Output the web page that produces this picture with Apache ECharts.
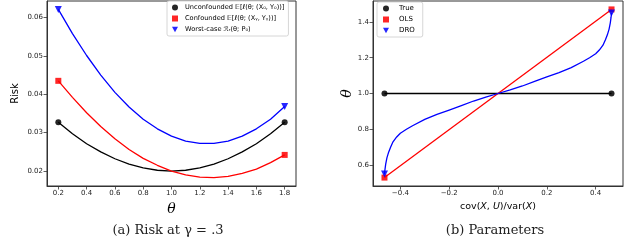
<!DOCTYPE html>
<html><head><meta charset="utf-8">
<script src="https://cdn.jsdelivr.net/npm/echarts@6/dist/echarts.min.js"></script>
<style>html,body{margin:0;padding:0;background:#fff}#c{width:640px;height:249px}</style>
</head><body><div id="c"></div>
<script>
// ---- Panel (a): risk vs theta ----
const theta = [0.2,0.3,0.4,0.5,0.6,0.7,0.8,0.9,1.0,1.1,1.2,1.3,1.4,1.5,1.6,1.7,1.8];
const riskUnconf = [0.0327,0.0297,0.0271,0.0250,0.0232,0.0218,0.0208,0.0202,0.0200,0.0202,0.0208,0.0218,0.0232,0.0250,0.0271,0.0297,0.0327];
const riskConf   = [0.0435,0.0392,0.0352,0.0316,0.0284,0.0256,0.0233,0.0215,0.0200,0.0190,0.0184,0.0183,0.0186,0.0194,0.0205,0.0222,0.0242];
const riskWorst  = [0.0621,0.0558,0.0501,0.0450,0.0405,0.0367,0.0335,0.0310,0.0291,0.0278,0.0272,0.0272,0.0278,0.0291,0.0310,0.0335,0.0368];
const thetaTicks = [0.2,0.4,0.6,0.8,1.0,1.2,1.4,1.6,1.8];
const thetaTickLabels = ['0.2','0.4','0.6','0.8','1.0','1.2','1.4','1.6','1.8'];
const riskTicks = [0.02,0.03,0.04,0.05,0.06];
const riskTickLabels = ['0.02','0.03','0.04','0.05','0.06'];

// ---- Panel (b): parameters ----
const covX = [-0.465,0.465];
const trueY = [1.0,1.0];
const olsY = [0.53,1.47];
const droX = [-0.465,-0.463,-0.46,-0.455,-0.448,-0.44,-0.43,-0.415,-0.40,-0.375,-0.35,-0.30,-0.25,-0.20,-0.15,-0.10,-0.05,0,0.05,0.10,0.15,0.20,0.25,0.30,0.35,0.375,0.40,0.415,0.43,0.44,0.448,0.455,0.46,0.463,0.465];
const droY = [0.55,0.575,0.605,0.64,0.672,0.70,0.73,0.757,0.778,0.80,0.82,0.855,0.883,0.907,0.932,0.958,0.98,1.0,1.02,1.042,1.068,1.093,1.117,1.145,1.18,1.20,1.222,1.243,1.27,1.30,1.328,1.36,1.395,1.425,1.45];
const covTicks = [-0.4,-0.2,0.0,0.2,0.4];
const covTickLabels = ['\u22120.4','\u22120.2','0.0','0.2','0.4'];
const parTicks = [0.6,0.8,1.0,1.2,1.4];
const parTickLabels = ['0.6','0.8','1.0','1.2','1.4'];

const names = ['Unconfounded \uD835\uDD3C[\u2113(\u03B8; (X\u2080, Y\u2080))]',
               'Confounded \uD835\uDD3C[\u2113(\u03B8; (X\u1D67, Y\u1D67))]',
               'Worst-case \u211B\u1D63(\u03B8; P\u2080)'];
const names2 = ['True','OLS','DRO'];

const TRI = 'path://M0,0 L10,0 L5,9 Z';
const FRAME = '#333';

function zip(a,b){return a.map((v,i)=>[v,b[i]]);}
function lab(ticks,labels){return v=>{let k=0,d=1e9;ticks.forEach((t,i)=>{if(Math.abs(t-v)<d){d=Math.abs(t-v);k=i;}});return labels[k];};}
function axis(gi,min,max,ticks,labels,extra){
  return Object.assign({gridIndex:gi,type:'value',min:min,max:max,
    axisLine:{show:true,onZero:false,lineStyle:{color:FRAME,width:1}},
    splitLine:{show:false},
    axisTick:{show:true,customValues:ticks,length:3.5,lineStyle:{color:FRAME,width:0.8}},
    axisLabel:{customValues:ticks,formatter:lab(ticks,labels),fontSize:7,color:'#222',margin:4,fontFamily:'DejaVu Sans'}
  },extra||{});
}
function endSize(n,s){return (v,p)=> (p.dataIndex===0||p.dataIndex===n-1)?s:0;}
function line(name,x,y,color,symbol,size,gi){
  return {name:name,type:'line',xAxisIndex:gi,yAxisIndex:gi,data:zip(x,y),smooth:false,
    symbol:symbol,symbolSize:endSize(x.length,size),showAllSymbol:true,
    lineStyle:{color:color,width:1.3,join:'round'},itemStyle:{color:color,opacity:0.85},
    emphasis:{disabled:true},animation:false,z:3};
}

const chart = echarts.init(document.getElementById('c'),null,{renderer:'canvas'});
chart.setOption({
  animation:false,
  grid:[{left:47,top:1,width:249,height:185,show:true,borderColor:FRAME,borderWidth:1},
        {left:373,top:1,width:250,height:185,show:true,borderColor:FRAME,borderWidth:1}],
  xAxis:[axis(0,0.12,1.88,thetaTicks,thetaTickLabels,{name:'\u03B8',nameLocation:'middle',nameGap:11,
           nameTextStyle:{fontSize:14,fontStyle:'italic',fontFamily:'DejaVu Serif',color:'#000'}}),
         axis(1,-0.512,0.512,covTicks,covTickLabels,{name:'{n|cov(}{i|X}{n|, }{i|U}{n|)/var(}{i|X}{n|)}',nameLocation:'middle',nameGap:12,
           nameTextStyle:{rich:{n:{fontSize:9.5,fontFamily:'DejaVu Sans',color:'#000'},i:{fontSize:9.5,fontStyle:'italic',fontFamily:'DejaVu Sans',color:'#000'}}}})],
  yAxis:[axis(0,0.0161,0.0643,riskTicks,riskTickLabels,{name:'Risk',nameLocation:'middle',nameGap:27,
           nameTextStyle:{fontSize:10,fontFamily:'DejaVu Sans',color:'#000'}}),
         axis(1,0.483,1.517,parTicks,parTickLabels,{name:'\u03B8',nameLocation:'middle',nameGap:18,
           nameTextStyle:{fontSize:14,fontStyle:'italic',fontFamily:'DejaVu Serif',color:'#000'}})],
  legend:[{left:167,top:1,orient:'vertical',itemGap:4,itemWidth:6,itemHeight:6,padding:[3,4,3,5],
           backgroundColor:'#fff',borderColor:'#ccc',borderWidth:0.8,borderRadius:2,
           textStyle:{fontSize:6.6,fontFamily:'DejaVu Sans',color:'#000',padding:[0,0,0,2]},
           data:[{name:names[0],icon:'circle'},{name:names[1],icon:'rect'},{name:names[2],icon:TRI}]},
          {left:377,top:2,orient:'vertical',itemGap:4,itemWidth:6,itemHeight:6,padding:[3,8,3,6],
           backgroundColor:'#fff',borderColor:'#ccc',borderWidth:0.8,borderRadius:2,
           textStyle:{fontSize:7,fontFamily:'DejaVu Sans',color:'#000',padding:[0,0,0,5]},
           data:[{name:names2[0],icon:'circle'},{name:names2[1],icon:'rect'},{name:names2[2],icon:TRI}]}],
  series:[
    line(names[0],theta,riskUnconf,'#000000','circle',6,0),
    line(names[1],theta,riskConf,'#ff0000','rect',6,0),
    line(names[2],theta,riskWorst,'#0000ff',TRI,7,0),
    line(names2[0],covX,trueY,'#000000','circle',6,1),
    line(names2[1],covX,olsY,'#ff0000','rect',6,1),
    line(names2[2],droX,droY,'#0000ff',TRI,7,1)
  ],
  graphic:[
    {type:'text',x:168,y:231,style:{text:'(a) Risk at \u03B3 = .3',font:'13px "DejaVu Serif"',fill:'#222',align:'center',verticalAlign:'middle'}},
    {type:'text',x:495,y:231,style:{text:'(b) Parameters',font:'13px "DejaVu Serif"',fill:'#222',align:'center',verticalAlign:'middle'}}
  ]
});
</script></body></html>
